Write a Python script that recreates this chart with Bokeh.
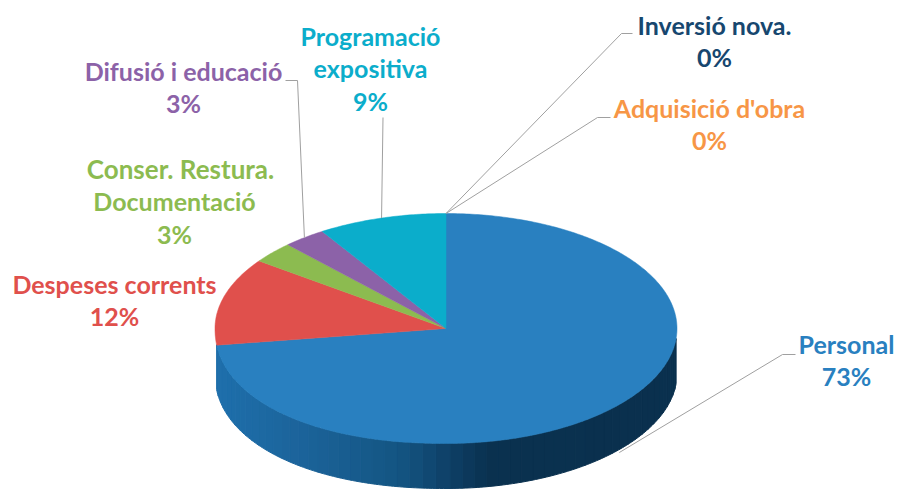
import numpy as np
from bokeh.core.properties import value
from bokeh.embed import file_html
from bokeh.models import ColumnDataSource, Range1d
from bokeh.plotting import figure
from bokeh.resources import INLINE

# data (clockwise from 12 o'clock)
categories = ["Personal", "Despeses corrents", "Conser. Restura. Documentació",
              "Difusió i educació", "Programació expositiva", "Adquisició d'obra", "Inversió nova."]
shares = [73, 12, 3, 3, 9, 0, 0]
slice_colors = ["#2980C0", "#E0504C", "#8CBB50", "#8C62A8", "#0BADCB", "#F79646", "#17476F"]

# label layout
label_lines = [["Personal"], ["Despeses corrents"], ["Conser. Restura.", "Documentació"],
               ["Difusió i educació"], ["Programació", "expositiva"], ["Adquisició d'obra"], ["Inversió nova."]]
label_x = [846, 114, 174, 183, 370, 709, 714]
label_top = [343, 283, 168, 70, 35, 107, 24]
line_step = 32.5
line_shift = {"Conser. Restura.": 6}
line_size = {"Conser. Restura.": "26px"}
elbows = [[(795, 354), (782, 354)], [], [], [(285, 80), (297, 80)], [(382.5, 117)],
          [(610, 117), (597, 117)], [(632, 33), (621, 33)]]
has_leader = [True, False, False, True, True, True, True]

# pie geometry
cx, cy, rx, ry, depth = 445.5, 328, 231, 115, 45
side_x = [215, 225, 300, 400, 445, 487, 676]
side_r = [32, 30, 28, 20, 15, 10, 10]
side_g = [112, 110, 100, 85, 65, 50, 48]
side_b = [172, 170, 155, 130, 105, 80, 78]


def outline(theta):
    t = np.radians(theta)
    s, c = np.sin(t), np.cos(t)
    e = 2 / 2.15 if 180 < (theta % 360) < 270 else 1.0
    return (cx + rx * np.sign(s) * abs(s) ** e, cy - ry * np.sign(c) * abs(c) ** e)


p = figure(width=899, height=489, output_backend="svg", toolbar_location=None,
           x_range=Range1d(0, 899), y_range=Range1d(489, 0), min_border=0,
           margin=0, outline_line_color=None, background_fill_color="white")
p.axis.visible = False
p.grid.visible = False

# rim of the pie: shaded by horizontal position
thetas = np.linspace(95, 263, 57)
sx, sy, sc = [], [], []
for a, b in zip(thetas[:-1], thetas[1:]):
    xa, ya = outline(a)
    xb, yb = outline(b)
    sub = np.linspace(a, b, 5)
    pts = [outline(q) for q in sub]
    sx.append([q[0] for q in pts] + [q[0] for q in reversed(pts)])
    sy.append([q[1] for q in pts] + [q[1] + depth for q in reversed(pts)])
    xm = (xa + xb) / 2
    sc.append("#%02x%02x%02x" % tuple(int(np.interp(xm, side_x, ch)) for ch in (side_r, side_g, side_b)))
p.patches("x", "y", fill_color="c", line_color="c", line_width=1,
          source=ColumnDataSource(dict(x=sx, y=sy, c=sc)))

# top face
fractions = np.cumsum([0] + shares) / sum(shares) * 360
tx, ty, tc = [], [], []
for i, share in enumerate(shares):
    if share == 0:
        continue
    arc = np.linspace(fractions[i], fractions[i + 1], max(3, int(share * 5)))
    pts = [outline(a) for a in arc]
    tx.append([cx] + [q[0] for q in pts])
    ty.append([cy] + [q[1] for q in pts])
    tc.append(slice_colors[i])
p.patches("x", "y", fill_color="c", line_color="c", line_width=0.5,
          source=ColumnDataSource(dict(x=tx, y=ty, c=tc)))

# leaders, ending on each slice's mid-angle
lx, ly = [], []
for i, share in enumerate(shares):
    if not has_leader[i]:
        continue
    ax, ay = outline((fractions[i] + fractions[i + 1]) / 2)
    if i == 0:
        ay += depth + 3
    lx.append([q[0] for q in elbows[i]] + [ax])
    ly.append([q[1] for q in elbows[i]] + [ay])
p.multi_line("x", "y", line_color="#a0a0a0", line_width=1, source=ColumnDataSource(dict(x=lx, y=ly)))

# labels
tx, ty, tt, tc, ts = [], [], [], [], []
for i, share in enumerate(shares):
    for j, line in enumerate(label_lines[i] + [f"{share}%"]):
        tx.append(label_x[i] + line_shift.get(line, 0))
        ty.append(label_top[i] + j * line_step)
        tt.append(line)
        tc.append(slice_colors[i])
        ts.append(line_size.get(line, "25px"))
p.text("x", "y", text="t", text_color="c", text_font=value("Lato"), text_font_style="bold",
       text_font_size="s", text_align="center", text_baseline="middle",
       source=ColumnDataSource(dict(x=tx, y=ty, t=tt, c=tc, s=ts)))

open("out.html", "w").write(file_html(p, INLINE))
